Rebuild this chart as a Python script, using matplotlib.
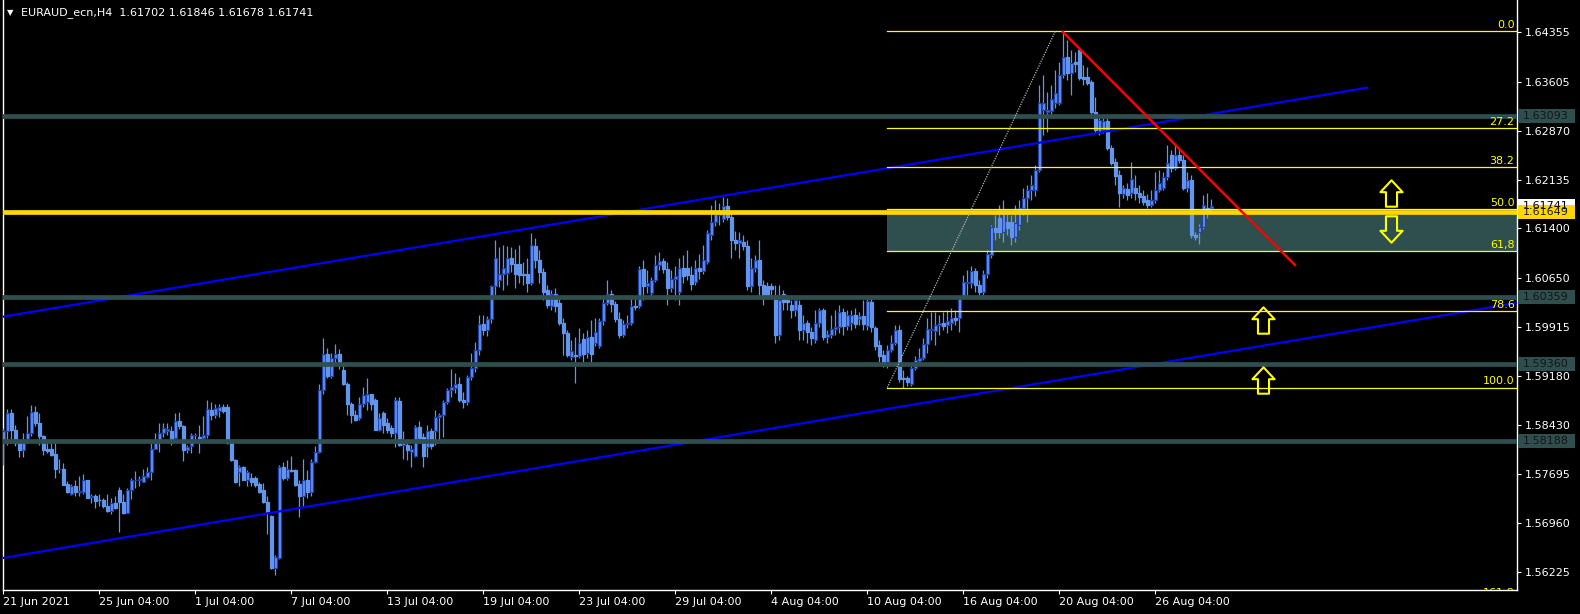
import numpy as np
import matplotlib.pyplot as plt
from matplotlib.path import Path
from matplotlib.patches import Rectangle
import matplotlib.transforms as mtransforms

# H4 candles from 21 Jun 2021
opens = [1.5817, 1.5834, 1.5861, 1.5836, 1.5818, 1.5806, 1.5822, 1.5831, 1.5863, 1.5847,
         1.5827, 1.5807, 1.5807, 1.5800, 1.5777, 1.5777, 1.5754, 1.5740, 1.5752, 1.5743,
         1.5743, 1.5760, 1.5735, 1.5737, 1.5731, 1.5730, 1.5722, 1.5714, 1.5726, 1.5745,
         1.5728, 1.5711, 1.5746, 1.5761, 1.5760, 1.5758, 1.5765, 1.5773, 1.5808, 1.5819,
         1.5831, 1.5834, 1.5835, 1.5824, 1.5850, 1.5842, 1.5806, 1.5812, 1.5828, 1.5826,
         1.5824, 1.5828,
         1.5866, 1.5859, 1.5865, 1.5870, 1.5871, 1.5816, 1.5791, 1.5773, 1.5780, 1.5761,
         1.5763, 1.5763, 1.5754, 1.5746, 1.5727, 1.5707, 1.5628, 1.5643, 1.5781, 1.5763,
         1.5776, 1.5776, 1.5754, 1.5737, 1.5761, 1.5743, 1.5788, 1.5803, 1.5896, 1.5950,
         1.5918, 1.5945, 1.5950, 1.5927, 1.5906, 1.5876, 1.5859, 1.5854, 1.5876, 1.5879,
         1.5890, 1.5881, 1.5836, 1.5861, 1.5846, 1.5839, 1.5831, 1.5880, 1.5814, 1.5814,
         1.5803, 1.5797, 1.5841, 1.5826, 1.5811, 1.5834, 1.5834, 1.5856, 1.5859, 1.5879,
         1.5896, 1.5899, 1.5905, 1.5881, 1.5878, 1.5916, 1.5929, 1.5956, 1.5996, 1.5987,
         1.6003, 1.6053, 1.6062, 1.6071, 1.6073, 1.6095, 1.6087, 1.6087, 1.6071, 1.6071,
         1.6057, 1.6113, 1.6092, 1.6074, 1.6047, 1.6023, 1.6041, 1.6027, 1.5997, 1.5982,
         1.5946, 1.5949, 1.5947, 1.5973, 1.5952, 1.5976, 1.5967, 1.5962, 1.6000, 1.6027,
         1.6041, 1.6026, 1.6003, 1.5979, 1.5996, 1.5997, 1.6023, 1.6023, 1.6078, 1.6053,
         1.6042, 1.6062, 1.6085, 1.6091, 1.6078, 1.6050, 1.6063, 1.6044, 1.6081, 1.6081,
         1.6069, 1.6059, 1.6080, 1.6075, 1.6089, 1.6130, 1.6149, 1.6160, 1.6154, 1.6174,
         1.6157, 1.6123, 1.6118, 1.6120, 1.6113, 1.6053, 1.6080, 1.6092, 1.6054, 1.6053,
         1.6053, 1.6032, 1.5979, 1.6041, 1.6032, 1.6024, 1.6017, 1.6024, 1.5987, 1.5997,
         1.5984, 1.5971, 1.5997, 1.6017, 1.5976, 1.5979, 1.5988, 1.5991, 1.6014, 1.5993,
         1.5997, 1.6009, 1.6003, 1.6008, 1.5993, 1.6029, 1.5990, 1.5964, 1.5949, 1.5938,
         1.5956, 1.5967, 1.5987, 1.5914, 1.5914, 1.5905, 1.5929, 1.5940, 1.5944, 1.5966,
         1.5987, 1.5985, 1.5994, 1.5997, 1.5994, 1.5997, 1.6005, 1.6005, 1.6038, 1.6057,
         1.6057, 1.6075, 1.6054, 1.6044, 1.6071, 1.6100, 1.6141, 1.6156, 1.6135, 1.6150,
         1.6150, 1.6127, 1.6145, 1.6171, 1.6186, 1.6198, 1.6198, 1.6228, 1.6318, 1.6315,
         1.6317, 1.6329, 1.6329, 1.6371, 1.6398, 1.6374, 1.6391, 1.6409, 1.6368, 1.6368,
         1.6361, 1.6315, 1.6284, 1.6288, 1.6302, 1.6261, 1.6240, 1.6221, 1.6192, 1.6199,
         1.6193, 1.6201, 1.6193, 1.6189, 1.6183, 1.6175, 1.6183, 1.6198, 1.6201, 1.6217,
         1.6250, 1.6231, 1.6250, 1.6243, 1.6201, 1.6213, 1.6130, 1.6135, 1.6142, 1.6171,
         1.61702]
highs = [1.5839, 1.5868, 1.5868, 1.5843, 1.5822, 1.5831, 1.5857, 1.5874, 1.5872, 1.5862,
         1.5829, 1.5818, 1.5818, 1.5818, 1.5792, 1.5786, 1.5759, 1.5754, 1.5761, 1.5767,
         1.5770, 1.5761, 1.5739, 1.5739, 1.5739, 1.5734, 1.5739, 1.5733, 1.5737, 1.5750,
         1.5739, 1.5749, 1.5764, 1.5774, 1.5767, 1.5777, 1.5781, 1.5817, 1.5832, 1.5846,
         1.5846, 1.5847, 1.5842, 1.5862, 1.5863, 1.5843, 1.5814, 1.5831, 1.5831, 1.5843,
         1.5857, 1.5882,
         1.5879, 1.5876, 1.5876, 1.5876, 1.5876, 1.5819, 1.5792, 1.5783, 1.5782, 1.5776,
         1.5771, 1.5766, 1.5758, 1.5756, 1.5736, 1.5708, 1.5648, 1.5783, 1.5788, 1.5791,
         1.5797, 1.5777, 1.5761, 1.5792, 1.5776, 1.5792, 1.5812, 1.5906, 1.5975, 1.5960,
         1.5952, 1.5965, 1.5958, 1.5935, 1.5909, 1.5879, 1.5866, 1.5886, 1.5901, 1.5914,
         1.5891, 1.5884, 1.5861, 1.5864, 1.5854, 1.5844, 1.5886, 1.5886, 1.5834, 1.5821,
         1.5814, 1.5844, 1.5849, 1.5831, 1.5844, 1.5839, 1.5866, 1.5861, 1.5881, 1.5899,
         1.5928, 1.5922, 1.5916, 1.5893, 1.5919, 1.5952, 1.5968, 1.6009, 1.6009, 1.6008,
         1.6054, 1.6122, 1.6112, 1.6115, 1.6113, 1.6112, 1.6109, 1.6115, 1.6089, 1.6095,
         1.6133, 1.6125, 1.6107, 1.6080, 1.6054, 1.6047, 1.6050, 1.6038, 1.6005, 1.5987,
         1.5971, 1.5976, 1.5990, 1.5982, 1.5987, 1.6002, 1.6005, 1.6005, 1.6035, 1.6062,
         1.6047, 1.6030, 1.6014, 1.6002, 1.6009, 1.6039, 1.6035, 1.6084, 1.6092, 1.6077,
         1.6066, 1.6100, 1.6104, 1.6095, 1.6089, 1.6077, 1.6084, 1.6095, 1.6100, 1.6107,
         1.6084, 1.6092, 1.6101, 1.6115, 1.6138, 1.6175, 1.6183, 1.6178, 1.6187, 1.6186,
         1.6165, 1.6136, 1.6135, 1.6130, 1.6123, 1.6095, 1.6100, 1.6123, 1.6062, 1.6059,
         1.6057, 1.6054, 1.6054, 1.6047, 1.6039, 1.6032, 1.6032, 1.6032, 1.6009, 1.6002,
         1.5991, 1.6017, 1.6020, 1.6020, 1.5987, 1.6009, 1.6017, 1.6024, 1.6020, 1.6017,
         1.6017, 1.6020, 1.6014, 1.6032, 1.6035, 1.6035, 1.5993, 1.5971, 1.5956, 1.5964,
         1.5979, 1.5994, 1.5994, 1.5926, 1.5917, 1.5935, 1.5947, 1.5959, 1.5975, 1.6005,
         1.6014, 1.6014, 1.6009, 1.6014, 1.6017, 1.6020, 1.6017, 1.6039, 1.6069, 1.6077,
         1.6084, 1.6080, 1.6062, 1.6077, 1.6107, 1.6145, 1.6160, 1.6175, 1.6183, 1.6168,
         1.6160, 1.6175, 1.6183, 1.6201, 1.6205, 1.6220, 1.6236, 1.6356, 1.6371, 1.6346,
         1.6356, 1.6379, 1.6391, 1.6437, 1.6424, 1.6409, 1.6406, 1.6413, 1.6386, 1.6383,
         1.6364, 1.6338, 1.6311, 1.6306, 1.6306, 1.6265, 1.6246, 1.6228, 1.6205, 1.6208,
         1.6240, 1.6221, 1.6205, 1.6198, 1.6192, 1.6198, 1.6225, 1.6228, 1.6225, 1.6265,
         1.6258, 1.6265, 1.6261, 1.6250, 1.6225, 1.6220, 1.6134, 1.6147, 1.6190, 1.6193,
         1.61846]
lows = [1.5783, 1.5814, 1.5817, 1.5812, 1.5796, 1.5796, 1.5817, 1.5827, 1.5842, 1.5813,
        1.5799, 1.5802, 1.5797, 1.5764, 1.5772, 1.5753, 1.5741, 1.5738, 1.5737, 1.5737,
        1.5739, 1.5734, 1.5726, 1.5719, 1.5722, 1.5719, 1.5712, 1.5709, 1.5717, 1.5682,
        1.5709, 1.5711, 1.5732, 1.5749, 1.5752, 1.5757, 1.5763, 1.5760, 1.5807, 1.5803,
        1.5826, 1.5829, 1.5813, 1.5822, 1.5837, 1.5789, 1.5802, 1.5801, 1.5817, 1.5801,
        1.5819, 1.5824,
        1.5851, 1.5854, 1.5856, 1.5861, 1.5815, 1.5790, 1.5756, 1.5751, 1.5760, 1.5751,
        1.5751, 1.5750, 1.5741, 1.5726, 1.5680, 1.5626, 1.5618, 1.5641, 1.5761, 1.5761,
        1.5773, 1.5752, 1.5705, 1.5720, 1.5733, 1.5736, 1.5786, 1.5801, 1.5890, 1.5914,
        1.5915, 1.5935, 1.5928, 1.5904, 1.5859, 1.5846, 1.5849, 1.5851, 1.5871, 1.5866,
        1.5866, 1.5836, 1.5834, 1.5831, 1.5831, 1.5826, 1.5811, 1.5812, 1.5793, 1.5791,
        1.5781, 1.5796, 1.5816, 1.5781, 1.5796, 1.5808, 1.5813, 1.5821, 1.5826, 1.5876,
        1.5886, 1.5892, 1.5878, 1.5869, 1.5874, 1.5911, 1.5923, 1.5949, 1.5979, 1.5978,
        1.5998, 1.6040, 1.6051, 1.6047, 1.6054, 1.6074, 1.6050, 1.6058, 1.6054, 1.6044,
        1.6054, 1.6080, 1.6057, 1.6032, 1.6020, 1.6017, 1.6014, 1.5994, 1.5949, 1.5946,
        1.5941, 1.5907, 1.5944, 1.5938, 1.5944, 1.5938, 1.5962, 1.5959, 1.5994, 1.6024,
        1.6014, 1.5999, 1.5975, 1.5976, 1.5990, 1.5994, 1.6017, 1.6020, 1.6032, 1.6042,
        1.6038, 1.6059, 1.6077, 1.6073, 1.6024, 1.6044, 1.6032, 1.6024, 1.6057, 1.6062,
        1.6047, 1.6054, 1.6064, 1.6071, 1.6086, 1.6123, 1.6144, 1.6145, 1.6149, 1.6153,
        1.6096, 1.6107, 1.6096, 1.6107, 1.6047, 1.6044, 1.6074, 1.6035, 1.6024, 1.6035,
        1.6039, 1.5967, 1.5971, 1.6017, 1.6017, 1.6005, 1.6008, 1.5971, 1.5971, 1.5967,
        1.5964, 1.5967, 1.5991, 1.5971, 1.5967, 1.5975, 1.5979, 1.5982, 1.5979, 1.5987,
        1.5987, 1.5990, 1.5994, 1.5987, 1.5987, 1.5984, 1.5956, 1.5938, 1.5931, 1.5929,
        1.5953, 1.5964, 1.5908, 1.5900, 1.5902, 1.5902, 1.5926, 1.5935, 1.5941, 1.5952,
        1.5971, 1.5964, 1.5979, 1.5987, 1.5982, 1.5987, 1.5994, 1.5984, 1.6035, 1.6038,
        1.6050, 1.6044, 1.6039, 1.6039, 1.6065, 1.6096, 1.6123, 1.6126, 1.6120, 1.6130,
        1.6115, 1.6120, 1.6138, 1.6160, 1.6150, 1.6183, 1.6189, 1.6225, 1.6281, 1.6285,
        1.6311, 1.6322, 1.6326, 1.6367, 1.6364, 1.6341, 1.6376, 1.6364, 1.6356, 1.6356,
        1.6311, 1.6285, 1.6281, 1.6284, 1.6258, 1.6235, 1.6205, 1.6172, 1.6186, 1.6183,
        1.6186, 1.6183, 1.6178, 1.6175, 1.6171, 1.6172, 1.6178, 1.6195, 1.6198, 1.6213,
        1.6225, 1.6228, 1.6238, 1.6198, 1.6195, 1.6125, 1.6122, 1.6117, 1.6139, 1.6156,
        1.61678]
closes = [1.5834, 1.5861, 1.5836, 1.5817, 1.5806, 1.5819, 1.5831, 1.5863, 1.5847, 1.5827,
          1.5806, 1.5805, 1.5799, 1.5777, 1.5778, 1.5753, 1.5742, 1.5751, 1.5743, 1.5744,
          1.5760, 1.5734, 1.5736, 1.5729, 1.5730, 1.5722, 1.5714, 1.5726, 1.5719, 1.5728,
          1.5711, 1.5745, 1.5760, 1.5761, 1.5762, 1.5766, 1.5773, 1.5808, 1.5817, 1.5831,
          1.5839, 1.5838, 1.5822, 1.5850, 1.5842, 1.5806, 1.5811, 1.5829, 1.5829, 1.5824,
          1.5829, 1.5867,
          1.5859, 1.5869, 1.5870, 1.5864, 1.5816, 1.5791, 1.5758, 1.5781, 1.5761, 1.5773,
          1.5758, 1.5753, 1.5743, 1.5727, 1.5713, 1.5628, 1.5645, 1.5781, 1.5763, 1.5777,
          1.5775, 1.5753, 1.5737, 1.5761, 1.5743, 1.5788, 1.5803, 1.5896, 1.5950, 1.5918,
          1.5945, 1.5950, 1.5935, 1.5906, 1.5876, 1.5859, 1.5851, 1.5876, 1.5889, 1.5890,
          1.5876, 1.5836, 1.5854, 1.5844, 1.5836, 1.5831, 1.5881, 1.5814, 1.5821, 1.5806,
          1.5808, 1.5841, 1.5824, 1.5797, 1.5834, 1.5812, 1.5856, 1.5859, 1.5879, 1.5897,
          1.5901, 1.5905, 1.5881, 1.5878, 1.5916, 1.5929, 1.5956, 1.5996, 1.5987, 1.6003,
          1.6053, 1.6096, 1.6071, 1.6080, 1.6096, 1.6087, 1.6071, 1.6069, 1.6069, 1.6057,
          1.6115, 1.6092, 1.6074, 1.6044, 1.6024, 1.6041, 1.6023, 1.5997, 1.5982, 1.5949,
          1.5955, 1.5947, 1.5967, 1.5950, 1.5976, 1.5950, 1.5984, 1.6000, 1.6027, 1.6041,
          1.6026, 1.6003, 1.5979, 1.5996, 1.5997, 1.6023, 1.6022, 1.6078, 1.6053, 1.6057,
          1.6062, 1.6085, 1.6091, 1.6078, 1.6050, 1.6063, 1.6068, 1.6081, 1.6068, 1.6069,
          1.6056, 1.6080, 1.6075, 1.6092, 1.6133, 1.6149, 1.6162, 1.6166, 1.6174, 1.6157,
          1.6123, 1.6118, 1.6123, 1.6113, 1.6053, 1.6080, 1.6092, 1.6054, 1.6038, 1.6038,
          1.6048, 1.5979, 1.6032, 1.6029, 1.6029, 1.6017, 1.6032, 1.5987, 1.5997, 1.5984,
          1.5974, 1.5997, 1.6017, 1.5976, 1.5981, 1.5988, 1.5991, 1.6014, 1.5993, 1.6009,
          1.6009, 1.5996, 1.6008, 1.5996, 1.6030, 1.5991, 1.5962, 1.5947, 1.5938, 1.5956,
          1.5967, 1.5987, 1.5913, 1.5913, 1.5908, 1.5929, 1.5941, 1.5944, 1.5966, 1.5988,
          1.5988, 1.5994, 1.5997, 1.5993, 1.6000, 1.6005, 1.6002, 1.6035, 1.6059, 1.6059,
          1.6075, 1.6054, 1.6044, 1.6071, 1.6101, 1.6142, 1.6135, 1.6135, 1.6163, 1.6141,
          1.6127, 1.6148, 1.6171, 1.6186, 1.6198, 1.6205, 1.6228, 1.6329, 1.6329, 1.6318,
          1.6335, 1.6344, 1.6371, 1.6398, 1.6374, 1.6389, 1.6388, 1.6367, 1.6365, 1.6359,
          1.6315, 1.6288, 1.6303, 1.6302, 1.6261, 1.6238, 1.6219, 1.6193, 1.6201, 1.6190,
          1.6214, 1.6193, 1.6187, 1.6180, 1.6175, 1.6183, 1.6198, 1.6208, 1.6217, 1.6238,
          1.6231, 1.6250, 1.6243, 1.6201, 1.6213, 1.6130, 1.6127, 1.6142, 1.6175, 1.6163,
          1.61741]

date_bars = [0, 24, 48, 72, 96, 120, 144, 168, 192, 216, 240, 264, 288]
date_labels = ['21 Jun 2021', '25 Jun 04:00', '1 Jul 04:00', '7 Jul 04:00', '13 Jul 04:00',
               '19 Jul 04:00', '23 Jul 04:00', '29 Jul 04:00', '4 Aug 04:00', '10 Aug 04:00',
               '16 Aug 04:00', '20 Aug 04:00', '26 Aug 04:00']
price_ticks = [1.64355, 1.63605, 1.62870, 1.62135, 1.61400, 1.60650, 1.59915, 1.59180,
               1.58430, 1.57695, 1.56960, 1.56225]

# horizontal levels
sr_levels = [1.63093, 1.60359, 1.59360, 1.58188]
key_level = 1.61649
last_price = 1.61741
title = 'EURAUD_ecn,H4  1.61702 1.61846 1.61678 1.61741'

# fibo from low to high
fib_bars = [221, 263]
fib_prices = [1.5900, 1.6437]
fib_ratios = [0.0, 27.2, 38.2, 50.0, 61.8, 78.6, 100.0]
fib_names = ['0.0', '27.2', '38.2', '50.0', '61,8', '78.6', '100.0']

# trend lines (bar, price)
chan_top_bars = [-0.1, 340.9]
chan_top_prices = [1.60068, 1.63520]
chan_bot_bars = [-0.1, 378.3]
chan_bot_prices = [1.56432, 1.60275]
red_bars = [264.9, 322.9]
red_prices = [1.6436, 1.60848]

# arrows (bar, price)
up_arrow_bars = [346.9, 314.9, 314.9]
up_arrow_prices = [1.61933, 1.60019, 1.59114]
down_arrow_bars = [346.9]
down_arrow_prices = [1.61390]

SLATE = '#2F4F4F'
GOLD = '#FFD700'
CANDLE = '#6495ED'
CANDLE_EDGE = '#1e3fae'

fig = plt.figure(figsize=(15.8, 6.14), dpi=100, facecolor='black')
ax = fig.add_axes([2.5/1580, 24/614, 1514/1580, 590/614], facecolor='black')
ax.set_xlim(-0.2, 378.3)
ax.set_ylim(1.55949, 1.64842)

# zone between 50 and 61.8
fib_hi, fib_lo = fib_prices[1], fib_prices[0]
fib_lv = [fib_hi - r / 100 * (fib_hi - fib_lo) for r in fib_ratios]
ax.add_patch(Rectangle((fib_bars[0], fib_lv[4]), 400, key_level - fib_lv[4],
                       facecolor=SLATE, edgecolor='none', zorder=1))

# candles
idx = np.arange(len(opens))
o = np.array(opens); h = np.array(highs); l = np.array(lows); c = np.array(closes)
up = c >= o
ax.vlines(idx, l, h, color=CANDLE, lw=0.9, zorder=3)
ax.bar(idx[up], c[up] - o[up], bottom=o[up], width=0.75, color=CANDLE,
       edgecolor=CANDLE_EDGE, lw=0.9, zorder=3)
ax.bar(idx[~up], o[~up] - c[~up], bottom=c[~up], width=0.75, color=CANDLE,
       edgecolor=CANDLE, lw=0.9, zorder=3)

# channel
ax.plot(chan_top_bars, chan_top_prices, color='#0000FF', lw=1.6, zorder=4)
ax.plot(chan_bot_bars, chan_bot_prices, color='#0000FF', lw=1.6, zorder=4)

# horizontal lines
for lv in sr_levels:
    ax.axhline(lv, color=SLATE, lw=3.4, zorder=5)
ax.axhline(key_level, color=GOLD, lw=3.4, zorder=5)

# fibo
for lv, name in zip(fib_lv, fib_names):
    ax.plot([fib_bars[0], 400], [lv, lv], color='#FFFF00', lw=0.9, zorder=5)
    ax.text(377.8, lv + 0.0002, name, color='#FFFF00', fontsize=8, ha='right',
            va='bottom', zorder=6, clip_on=True)
ax.text(377.8, 1.5598, '161.8', color='#FFFF00', fontsize=8, ha='right', va='top',
        zorder=6, clip_on=True)
ax.plot(fib_bars, [fib_lo, fib_hi], color='#B4B4B4', lw=0.9, ls=(0, (1, 1)), zorder=5)

ax.plot(red_bars, red_prices, color='#FF0000', lw=1.8, zorder=6)

# arrows
ua = Path([(-0.21, -0.5), (0.21, -0.5), (0.21, 0.05), (0.42, 0.05), (0, 0.5),
           (-0.42, 0.05), (-0.21, 0.05), (-0.21, -0.5)], closed=True)
da = Path([(x, -y) for x, y in ua.vertices], closed=True)
ax.plot(up_arrow_bars, up_arrow_prices, ls='none', marker=ua, markersize=19,
        mfc='none', mec='#FFFF00', mew=1.5, zorder=7)
ax.plot(down_arrow_bars, down_arrow_prices, ls='none', marker=da, markersize=19,
        mfc='none', mec='#FFFF00', mew=1.5, zorder=7)

# axes styling
for s in ['left', 'bottom', 'right']:
    ax.spines[s].set_color('white')
    ax.spines[s].set_linewidth(1)
ax.spines['top'].set_visible(False)
ax.yaxis.tick_right()
ax.set_yticks(price_ticks)
ax.set_yticklabels(['%.5f' % p for p in price_ticks])
ax.set_xticks(date_bars)
ax.set_xticklabels(date_labels, ha='left')
ax.tick_params(colors='white', labelsize=8, length=3, width=0.8)
ax.tick_params(axis='y', pad=3)
ax.tick_params(axis='x', pad=2)

# price boxes on the right scale
tb = mtransforms.blended_transform_factory(ax.transAxes, ax.transData)
half = 7 * (1.64842 - 1.55949) / 590
boxes = [(p, SLATE, '#151515') for p in sr_levels]
boxes += [(last_price, 'white', 'black'), (key_level, GOLD, '#202020')]
for p, fc, tc in boxes:
    ax.add_patch(Rectangle((1.001, p - half), 0.0375, 2 * half, transform=tb,
                           facecolor=fc, edgecolor='none', clip_on=False, zorder=10))
    ax.text(1.0045, p, '%.5f' % p, transform=tb, color=tc, fontsize=8, va='center',
            ha='left', clip_on=False, zorder=11)

fig.text(7/1580, 1 - 12.5/614, '▼', color='white', fontsize=6, va='center')
fig.text(21/1580, 1 - 12.5/614, title, color='white', fontsize=8, va='center')

plt.savefig('out.png', dpi=100, facecolor='black')
